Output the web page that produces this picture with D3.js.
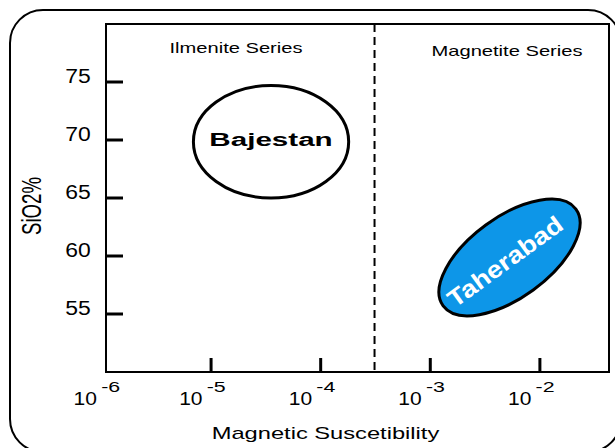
<!DOCTYPE html>
<html>
<head>
<meta charset="utf-8">
<script src="https://cdn.jsdelivr.net/npm/d3@7/dist/d3.min.js"></script>
<style>
  html, body { margin: 0; padding: 0; background: #fff; }
  svg { display: block; font-family: "Liberation Sans", Arial, sans-serif; }
</style>
</head>
<body>
<svg id="chart" width="615" height="448"></svg>
<script>
// Magnetic susceptibility vs SiO2 discrimination diagram
const xExponents = [-6, -5, -4, -3, -2];          // decade tick labels (10^e)
const ySiO2Ticks = [55, 60, 65, 70, 75];          // SiO2 % ticks
const seriesNames = ["Ilmenite Series", "Magnetite Series"];
const seriesBoundarySus = 3.1e-4;                 // ilmenite / magnetite divide

const fieldNames = ["Bajestan", "Taherabad"];
// Bajestan field: susceptibility and SiO2 extents
const bajestanSus = [6.9e-6, 1.8e-4];
const bajestanSiO2 = [65.0, 74.7];
// Taherabad field: ends of the long axis (susceptibility, SiO2)
const taherabadSus = [1.31e-3, 2.13e-2];
const taherabadSiO2 = [55.7, 64.05];
const taherabadWidthRatio = 0.49;                 // minor / major axis

const xTitle = "Magnetic Suscetibility";
const yTitle = "SiO2%";

const svg = d3.select("#chart");
const box = { left: 106, top: 24, right: 609, bottom: 372 };

const x = d3.scaleLog().domain([1.1e-6, 4.27e-2]).range([box.left, box.right]);
const y = d3.scaleLinear().domain([50, 80]).range([box.bottom, box.top]);

// outer rounded frame
svg.append("rect")
  .attr("x", 10).attr("y", 10).attr("width", 611).attr("height", 442)
  .attr("rx", 33).attr("ry", 33)
  .attr("fill", "#fff").attr("stroke", "#000").attr("stroke-width", 2);

// plot frame
svg.append("rect")
  .attr("x", box.left).attr("y", box.top)
  .attr("width", box.right - box.left).attr("height", box.bottom - box.top)
  .attr("fill", "#fff").attr("stroke", "#000").attr("stroke-width", 2);

// boundary between series
svg.append("line")
  .attr("x1", x(seriesBoundarySus)).attr("x2", x(seriesBoundarySus))
  .attr("y1", box.top).attr("y2", box.bottom)
  .attr("stroke", "#000").attr("stroke-width", 2)
  .attr("stroke-dasharray", "8,5");

// stretched text helper
function label(txt, px, py, size, len, anchor, weight, fill) {
  return svg.append("text")
    .attr("x", px).attr("y", py)
    .attr("font-size", size)
    .attr("font-weight", weight || "normal")
    .attr("text-anchor", anchor)
    .attr("textLength", len)
    .attr("lengthAdjust", "spacingAndGlyphs")
    .attr("fill", fill || "#000")
    .text(txt);
}

// series names
label(seriesNames[0], 236, 52.5, 14.5, 133, "middle");
label(seriesNames[1], 507, 56, 14.5, 151, "middle");

// y ticks (inside, from left edge)
svg.append("g").selectAll("line").data(ySiO2Ticks).join("line")
  .attr("x1", box.left).attr("x2", box.left + 17)
  .attr("y1", d => y(d)).attr("y2", d => y(d))
  .attr("stroke", "#000").attr("stroke-width", 3);
ySiO2Ticks.forEach(v => label(String(v), 90.7, y(v) + 0.5, 19.5, 25.5, "end"));

// x ticks (inside, upward from bottom edge)
const innerDecades = xExponents.filter(e => x(Math.pow(10, e)) > box.left);
svg.append("g").selectAll("line").data(innerDecades).join("line")
  .attr("x1", e => x(Math.pow(10, e))).attr("x2", e => x(Math.pow(10, e)))
  .attr("y1", box.bottom).attr("y2", box.bottom - 14)
  .attr("stroke", "#000").attr("stroke-width", 3);

xExponents.forEach((e, i) => {
  const t = x(Math.pow(10, e));
  const shift = i === 0 ? 4 : 0;
  label("10", t - 8.5 + shift, 404.5, 18.6, 23.4, "end");
  label(String(e), t - 4.3 + shift, 391.5, 15.5, 19, "start");
});

// axis titles
label(xTitle, 325.5, 438.5, 17, 227.6, "middle");
svg.append("text")
  .attr("transform", "translate(41,206) scale(1.45,1) rotate(-90)")
  .attr("font-size", 18.6)
  .attr("text-anchor", "middle")
  .attr("textLength", 58)
  .attr("lengthAdjust", "spacingAndGlyphs")
  .text(yTitle);

// Bajestan field
{
  const x0 = x(bajestanSus[0]), x1 = x(bajestanSus[1]);
  const y0 = y(bajestanSiO2[1]), y1 = y(bajestanSiO2[0]);
  const cx = (x0 + x1) / 2, cy = (y0 + y1) / 2;
  svg.append("ellipse")
    .attr("cx", cx).attr("cy", cy)
    .attr("rx", (x1 - x0) / 2).attr("ry", (y1 - y0) / 2)
    .attr("fill", "#fff").attr("stroke", "#000").attr("stroke-width", 3);
  label(fieldNames[0], cx, 146, 18, 123.4, "middle", "bold");
}

// Taherabad field
{
  const ax = x(taherabadSus[0]), ay = y(taherabadSiO2[0]);
  const bx = x(taherabadSus[1]), by = y(taherabadSiO2[1]);
  const cx = (ax + bx) / 2, cy = (ay + by) / 2;
  const a = Math.hypot(bx - ax, by - ay) / 2;
  const ang = Math.atan2(by - ay, bx - ax) * 180 / Math.PI;
  const g = svg.append("g").attr("transform", `translate(${cx},${cy}) rotate(${ang})`);
  g.append("ellipse")
    .attr("cx", 0).attr("cy", 0)
    .attr("rx", a).attr("ry", a * taherabadWidthRatio)
    .attr("fill", "#0d96e8").attr("stroke", "#000").attr("stroke-width", 3);
  g.append("text")
    .attr("x", -6).attr("y", 9)
    .attr("font-size", 24).attr("font-weight", "bold")
    .attr("text-anchor", "middle")
    .attr("textLength", 136)
    .attr("lengthAdjust", "spacingAndGlyphs")
    .attr("fill", "#fff")
    .text(fieldNames[1]);
}
</script>
</body>
</html>
